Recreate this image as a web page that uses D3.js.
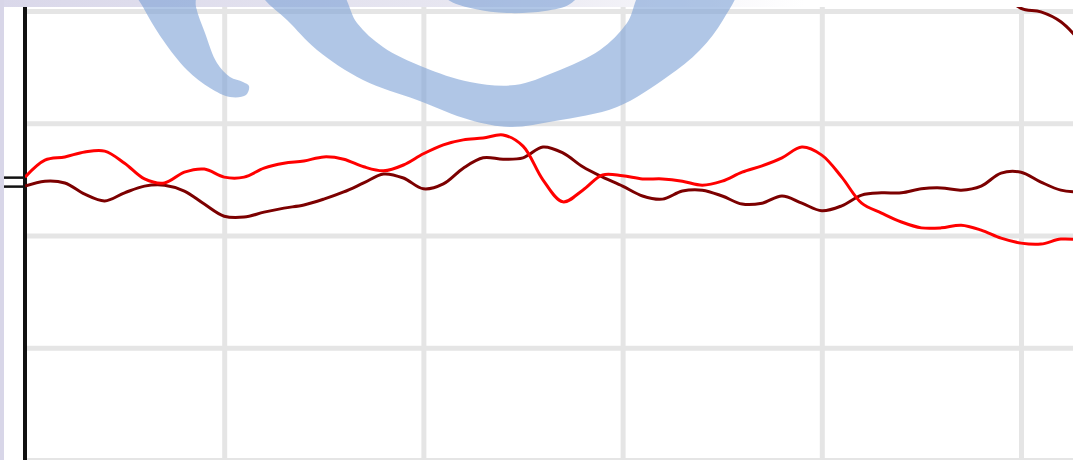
<!DOCTYPE html>
<html>
<head>
<meta charset="utf-8">
<script src="https://cdn.jsdelivr.net/npm/d3@7"></script>
<style>
body { margin: 0; background: #fff; }
svg { display: block; }
</style>
</head>
<body>
<svg id="chart" width="1073" height="460"></svg>
<script>
// sample positions (x) and values (y)
var days = [0, 5, 10, 15, 20, 25, 30, 35, 40, 45, 50, 55, 60, 65, 70, 75, 80, 85,
    90, 95, 100, 105, 110, 115, 120, 125, 130, 135, 140, 145, 150, 155, 160, 165,
    170, 175, 180, 185, 190, 195, 200, 205, 210, 215, 220, 225, 230, 235, 240, 245,
    250, 255, 260, 265];

var redSeries = [63.0, 66.8, 67.5, 68.6, 68.8, 66.1, 62.6, 61.7, 64.1, 64.8, 63.0, 63.0,
    65.0, 66.1, 66.6, 67.5, 67.0, 65.3, 64.4, 65.7, 68.2, 70.2, 71.3, 71.7, 72.4, 69.9,
    62.4, 57.5, 60.1, 63.5, 63.3, 62.6, 62.6, 62.1, 61.2, 62.1, 64.1, 65.5, 67.3, 69.7,
    67.9, 63.0, 57.2, 55.0, 53.0, 51.7, 51.7, 52.3, 51.2, 49.4, 48.3, 48.1, 49.2, 49.0];

var darkSeries = [61.0, 62.1, 61.7, 59.2, 57.7, 59.5, 61.0, 61.2, 59.9, 57.0, 54.3, 54.1,
    55.2, 56.1, 56.8, 58.1, 59.7, 61.7, 63.7, 62.8, 60.4, 61.5, 65.0, 67.3, 67.0, 67.3,
    69.7, 68.4, 65.3, 63.0, 61.0, 58.8, 58.1, 59.9, 60.1, 58.8, 57.0, 57.2, 58.8, 57.2,
    55.5, 56.6, 59.0, 59.5, 59.5, 60.4, 60.6, 60.1, 61.0, 63.9, 64.1, 61.9, 60.1, 59.7];

var topDays = [235, 240, 245, 250, 255, 260, 265];
var topSeries = [110.2, 106.9, 104.2, 100.6, 99.8, 97.6, 93.1];

var xTicks = [50, 100, 150, 200, 250];
var yTicks = [0, 25, 50, 75, 100];

var svg = d3.select('#chart');
var W = 1073, H = 460, plotTop = 7, left = 25;

var x = d3.scaleLinear().domain([0, 250]).range([left, 1021]);
var y = d3.scaleLinear().domain([0, 100]).range([460, 11]);

// frame: lavender band on the left and a fading one on top
var defs = svg.append('defs');
var grad = defs.append('linearGradient').attr('id', 'topband')
    .attr('x1', 0).attr('x2', 1).attr('y1', 0).attr('y2', 0);
grad.append('stop').attr('offset', '0%').attr('stop-color', '#dad8ea');
grad.append('stop').attr('offset', '45%').attr('stop-color', '#e8e7f1');
grad.append('stop').attr('offset', '75%').attr('stop-color', '#ffffff');
defs.append('clipPath').attr('id', 'plot')
    .append('rect').attr('x', left).attr('y', plotTop)
    .attr('width', W - left).attr('height', H - plotTop);

svg.append('rect').attr('x', 0).attr('y', 0).attr('width', W).attr('height', plotTop)
    .attr('fill', 'url(#topband)');
svg.append('rect').attr('x', 0).attr('y', 0).attr('width', 4).attr('height', H)
    .attr('fill', '#d8d6e8');

// grid
svg.append('g')
    .attr('transform', 'translate(0,' + H + ')')
    .call(d3.axisBottom(x).tickValues(xTicks).tickSize(-(H - plotTop)).tickFormat(''))
    .call(function(g) {
        g.select('.domain').remove();
        g.selectAll('.tick line').attr('stroke', '#e5e5e5').attr('stroke-width', 5);
    });
svg.append('g')
    .attr('transform', 'translate(' + left + ',0)')
    .call(d3.axisRight(y).tickValues(yTicks).tickSize(W - left).tickFormat(''))
    .call(function(g) {
        g.select('.domain').remove();
        g.selectAll('.tick line').attr('stroke', '#e5e5e5').attr('stroke-width', 5);
    });

// watermark swirl
var swirl = svg.append('g').attr('fill', 'rgb(123,160,213)').attr('fill-opacity', 0.6);
var blob = d3.line().curve(d3.curveCatmullRomClosed);
swirl.append('path').attr('d', blob([
    [134, -12], [143, 7], [163, 40], [187, 70], [210, 88], [230, 97], [246, 95], [249, 86],
    [243, 82], [230, 77], [217, 63], [205, 33], [196, 7], [194, -12]
]));
swirl.append('path').attr('d', blob([
    [258, -12], [265, 0], [287, 20], [317, 50], [363, 80], [417, 100], [470, 120], [510, 127],
    [555, 121], [617, 107], [667, 77], [700, 50], [723, 20], [736, -12],
    [645, -12], [627, 23], [600, 50], [555, 72], [515, 85], [470, 82], [423, 67],
    [383, 47], [357, 23], [337, -12]
]));
swirl.append('path').attr('d', blob([
    [436, -12], [450, 1], [475, 9], [507, 13], [545, 11], [570, 4], [582, -12], [510, -25]
]));

// axis line and start markers
svg.append('line')
    .attr('x1', left).attr('x2', left).attr('y1', plotTop).attr('y2', H)
    .attr('stroke', '#111').attr('stroke-width', 4);
svg.append('g')
    .attr('transform', 'translate(' + left + ',0)')
    .call(d3.axisLeft(y).tickValues([redSeries[0], darkSeries[0]]).tickSize(21).tickFormat(''))
    .call(function(g) {
        g.select('.domain').remove();
        g.selectAll('.tick line').attr('stroke', '#111').attr('stroke-width', 2.5);
    });

// series
var line = d3.line()
    .x(function(d) { return x(d[0]); })
    .y(function(d) { return y(d[1]); })
    .curve(d3.curveCatmullRom);

var plot = svg.append('g').attr('clip-path', 'url(#plot)');
var series = [
    {days: days, values: darkSeries, color: '#7c0000'},
    {days: days, values: redSeries, color: '#ff0000'},
    {days: topDays, values: topSeries, color: '#7c0000'}
];
series.forEach(function(s) {
    plot.append('path')
        .datum(d3.zip(s.days, s.values))
        .attr('d', line)
        .attr('fill', 'none')
        .attr('stroke', s.color)
        .attr('stroke-width', 3)
        .attr('stroke-linejoin', 'round');
});
</script>
</body>
</html>
